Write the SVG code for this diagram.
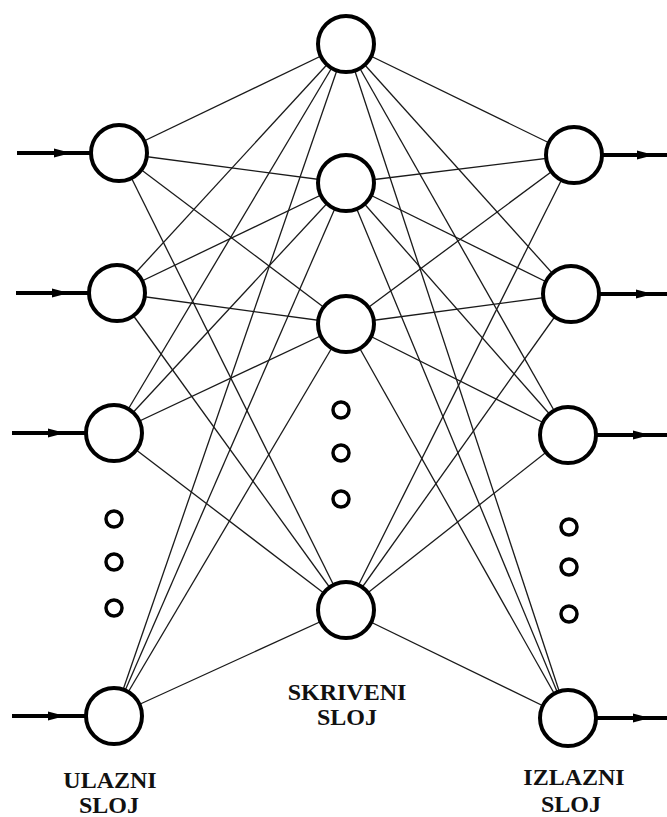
<svg xmlns="http://www.w3.org/2000/svg" width="667" height="817" viewBox="0 0 667 817">
  <style>
    .link { stroke: #1a1a1a; stroke-width: 1.3; fill: none; }
    .io { stroke: #000; stroke-width: 4; fill: none; }
    .node { fill: #fff; stroke: #000; stroke-width: 4; }
    .dot { fill: #fff; stroke: #000; stroke-width: 3.5; }
    .label { font-family: "Liberation Serif", "DejaVu Serif", serif; font-weight: bold; font-size: 24px; fill: #111; text-anchor: middle; }
  </style>
  <defs>
    <polygon id="head" points="0,-4.5 17,0 0,4.5" fill="#000"/>
  </defs>

  <!-- weighted links: input -> hidden, hidden -> output -->
  <g id="connectors">
    <!-- input 1 -->
    <line class="link" x1="119" y1="153" x2="346" y2="44"/>
    <line class="link" x1="119" y1="153" x2="346" y2="183"/>
    <line class="link" x1="119" y1="153" x2="346" y2="324"/>
    <line class="link" x1="119" y1="153" x2="346" y2="610"/>
    <!-- input 2 -->
    <line class="link" x1="117" y1="293" x2="346" y2="44"/>
    <line class="link" x1="117" y1="293" x2="346" y2="183"/>
    <line class="link" x1="117" y1="293" x2="346" y2="324"/>
    <line class="link" x1="117" y1="293" x2="346" y2="610"/>
    <!-- input 3 -->
    <line class="link" x1="114" y1="433" x2="346" y2="44"/>
    <line class="link" x1="114" y1="433" x2="346" y2="183"/>
    <line class="link" x1="114" y1="433" x2="346" y2="324"/>
    <line class="link" x1="114" y1="433" x2="346" y2="610"/>
    <!-- input 4 -->
    <line class="link" x1="114" y1="716" x2="346" y2="44"/>
    <line class="link" x1="114" y1="716" x2="346" y2="183"/>
    <line class="link" x1="114" y1="716" x2="346" y2="324"/>
    <line class="link" x1="114" y1="716" x2="346" y2="610"/>
    <!-- hidden 1 -->
    <line class="link" x1="346" y1="44" x2="574" y2="155"/>
    <line class="link" x1="346" y1="44" x2="571" y2="294"/>
    <line class="link" x1="346" y1="44" x2="568" y2="435"/>
    <line class="link" x1="346" y1="44" x2="568" y2="718"/>
    <!-- hidden 2 -->
    <line class="link" x1="346" y1="183" x2="574" y2="155"/>
    <line class="link" x1="346" y1="183" x2="571" y2="294"/>
    <line class="link" x1="346" y1="183" x2="568" y2="435"/>
    <line class="link" x1="346" y1="183" x2="568" y2="718"/>
    <!-- hidden 3 -->
    <line class="link" x1="346" y1="324" x2="574" y2="155"/>
    <line class="link" x1="346" y1="324" x2="571" y2="294"/>
    <line class="link" x1="346" y1="324" x2="568" y2="435"/>
    <line class="link" x1="346" y1="324" x2="568" y2="718"/>
    <!-- hidden 4 -->
    <line class="link" x1="346" y1="610" x2="574" y2="155"/>
    <line class="link" x1="346" y1="610" x2="571" y2="294"/>
    <line class="link" x1="346" y1="610" x2="568" y2="435"/>
    <line class="link" x1="346" y1="610" x2="568" y2="718"/>

    <!-- input arrows -->
    <line class="io" x1="17" y1="153" x2="92" y2="153"/>
    <use href="#head" x="54" y="153"/>
    <line class="io" x1="16" y1="293" x2="90" y2="293"/>
    <use href="#head" x="52" y="293"/>
    <line class="io" x1="12" y1="433" x2="87" y2="433"/>
    <use href="#head" x="48" y="433"/>
    <line class="io" x1="12" y1="716" x2="87" y2="716"/>
    <use href="#head" x="48" y="716"/>

    <!-- output arrows -->
    <line class="io" x1="602" y1="155" x2="667" y2="155"/>
    <use href="#head" x="637" y="155"/>
    <line class="io" x1="599" y1="294" x2="667" y2="294"/>
    <use href="#head" x="636" y="294"/>
    <line class="io" x1="596" y1="435" x2="667" y2="435"/>
    <use href="#head" x="633" y="435"/>
    <line class="io" x1="596" y1="718" x2="667" y2="718"/>
    <use href="#head" x="633" y="718"/>
  </g>

  <!-- input layer -->
  <g id="in1"><circle class="node" cx="119" cy="153" r="28"/></g>
  <g id="in2"><circle class="node" cx="117" cy="293" r="28"/></g>
  <g id="in3"><circle class="node" cx="114" cy="433" r="28"/></g>
  <g id="in-dots">
    <circle class="dot" cx="114" cy="519" r="8"/>
    <circle class="dot" cx="114" cy="562" r="8"/>
    <circle class="dot" cx="114" cy="608" r="8"/>
  </g>
  <g id="in4"><circle class="node" cx="114" cy="716" r="28"/></g>

  <!-- hidden layer -->
  <g id="h1"><circle class="node" cx="346" cy="44" r="28"/></g>
  <g id="h2"><circle class="node" cx="346" cy="183" r="28"/></g>
  <g id="h3"><circle class="node" cx="346" cy="324" r="28"/></g>
  <g id="h-dots">
    <circle class="dot" cx="341" cy="410" r="8"/>
    <circle class="dot" cx="341" cy="453" r="8"/>
    <circle class="dot" cx="341" cy="499" r="8"/>
  </g>
  <g id="h4"><circle class="node" cx="346" cy="610" r="28"/></g>

  <!-- output layer -->
  <g id="out1"><circle class="node" cx="574" cy="155" r="28"/></g>
  <g id="out2"><circle class="node" cx="571" cy="294" r="28"/></g>
  <g id="out3"><circle class="node" cx="568" cy="435" r="28"/></g>
  <g id="out-dots">
    <circle class="dot" cx="569" cy="527" r="8"/>
    <circle class="dot" cx="569" cy="567" r="8"/>
    <circle class="dot" cx="569" cy="614" r="8"/>
  </g>
  <g id="out4"><circle class="node" cx="568" cy="718" r="28"/></g>

  <!-- layer captions -->
  <g id="labels">
    <text class="label" x="110" y="788">ULAZNI</text>
    <text class="label" x="109" y="813">SLOJ</text>
    <text class="label" x="347" y="700">SKRIVENI</text>
    <text class="label" x="347" y="725">SLOJ</text>
    <text class="label" x="574" y="785">IZLAZNI</text>
    <text class="label" x="571" y="812">SLOJ</text>
  </g>
</svg>
